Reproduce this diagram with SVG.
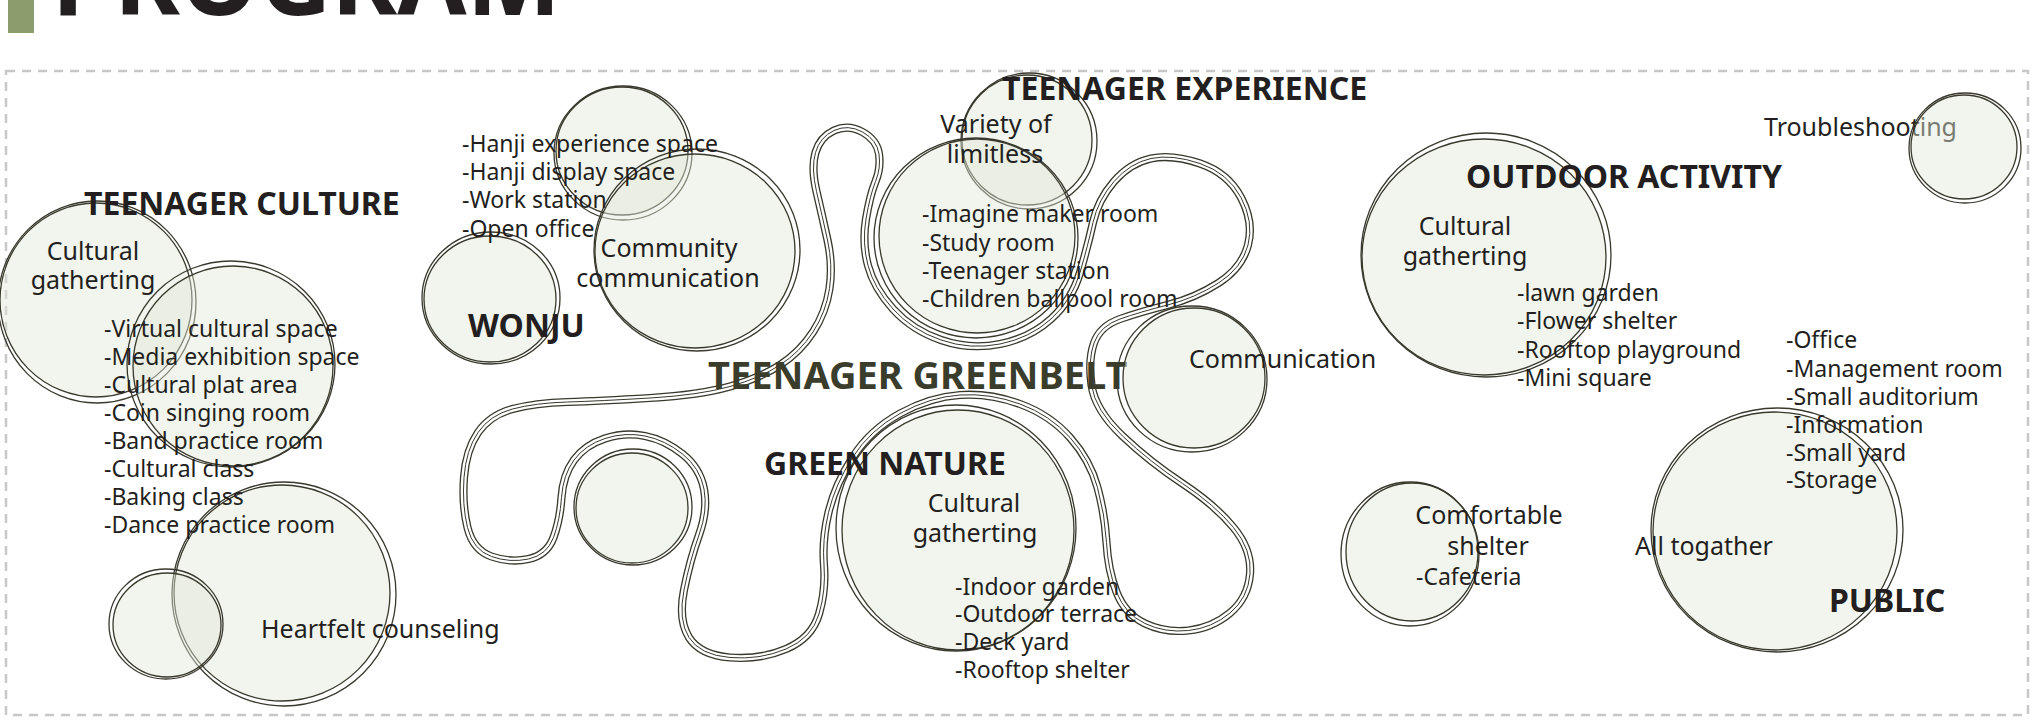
<svg xmlns="http://www.w3.org/2000/svg" width="2033" height="724" viewBox="0 0 2033 724">
<style>
.f{fill:#e3e8d6;fill-opacity:.45}
.o{fill:none;stroke:#38382c;stroke-width:1.3}
.h{font-family:"Noto Sans","Open Sans",sans-serif;font-weight:700;font-size:32px;fill:#231f20}
.t{font-family:"Noto Sans","Open Sans",sans-serif;font-size:25px;fill:#231f20}
.l{font-family:"Noto Sans","Open Sans",sans-serif;font-size:23px;fill:#231f20}
.c{text-anchor:middle}
</style>
<defs>
<path id="belt" fill="none" d="M567.5,402 Q600,401 650,398 Q700,395 730,386.5 Q760,378 780,365 Q800,352 813,332 Q826,312 829.5,288.5 Q833,265 827.5,240 Q822,215 816.5,191.5 Q811,168 815.5,152.5 Q820,137 834,130.5 Q848,124 862.5,132 Q877,140 879,154 Q881,168 875.5,181.5 Q870,195 866,219 Q862,243 868,265.5 Q874,288 893,309 Q912,330 941,340 Q970,350 1000,344 Q1030,338 1051,319 Q1072,300 1080,272.5 Q1088,245 1093,222.5 Q1098,200 1114,181.5 Q1130,163 1151,158.5 Q1172,154 1200,163.5 Q1228,173 1241,197.5 Q1254,222 1248,245 Q1242,268 1218.5,283 Q1195,298 1167.5,305 Q1140,312 1120,319 Q1100,326 1094,343 Q1088,360 1091.5,385 Q1095,410 1122.5,436 Q1150,462 1182.5,483.5 Q1215,505 1233.5,527.5 Q1252,550 1250,574 Q1248,598 1230,613 Q1212,628 1188.5,630.5 Q1165,633 1145,623.5 Q1125,614 1116.5,592 Q1108,570 1106.5,542.5 Q1105,515 1097.5,487.5 Q1090,460 1070,437.5 Q1050,415 1020,404 Q990,393 960,395 Q930,397 900,413.5 Q870,430 852.5,457.5 Q835,485 828.5,512.5 Q822,540 824,565 Q826,590 819,614 Q812,638 786,649 Q760,660 730,657.5 Q700,655 689,637.5 Q678,620 684,590 Q690,560 699,535 Q708,510 704,489 Q700,468 682.5,454 Q665,440 645,436 Q625,432 605,438.5 Q585,445 574,460 Q563,475 561.5,497.5 Q560,520 553.5,537.5 Q547,555 528.5,559 Q510,563 491.5,556.5 Q473,550 467.5,527.5 Q462,505 464,477.5 Q466,450 478,432.5 Q490,415 512.5,409 Q535,403 567.5,402 Z"/>
<mask id="tubeMask" maskUnits="userSpaceOnUse" x="0" y="0" width="2033" height="724">
<rect x="0" y="0" width="2033" height="724" fill="#fff"/>
<use href="#belt" stroke="#000" stroke-width="5.6"/>
</mask>
</defs>

<g id="header">
<rect x="8" y="0" width="26" height="33" fill="#8c9d6d"/>
<text x="52" y="15" font-family="Noto Sans, Open Sans, sans-serif" font-weight="700" font-size="104" fill="#231f20" textLength="509" lengthAdjust="spacingAndGlyphs">PROGRAM</text>
<rect x="6" y="71" width="2022" height="644" fill="none" stroke="#c8c8c8" stroke-width="2.5" stroke-dasharray="9 7"/>
</g>

<g id="connectors">
<use href="#belt" stroke="#38382c" stroke-width="8.2" mask="url(#tubeMask)"/>
<use href="#belt" stroke="#38382c" stroke-width="1"/>
</g>

<g id="teenager-culture">
<ellipse class="f" cx="96" cy="300" rx="96" ry="97"/>
<ellipse class="o" cx="96" cy="300" rx="96" ry="97"/>
<ellipse class="o" cx="97" cy="302" rx="99" ry="101"/>
<ellipse class="f" cx="233" cy="366" rx="100" ry="100"/>
<ellipse class="o" cx="233" cy="366" rx="100" ry="100"/>
<ellipse class="o" cx="231" cy="364" rx="104" ry="103"/>
<ellipse class="f" cx="282" cy="593" rx="108" ry="108"/>
<ellipse class="o" cx="282" cy="593" rx="108" ry="108"/>
<ellipse class="o" cx="284" cy="594" rx="112" ry="112"/>
<ellipse class="f" cx="167" cy="625" rx="54" ry="52"/>
<ellipse class="o" cx="167" cy="625" rx="54" ry="52"/>
<ellipse class="o" cx="166" cy="624" rx="57" ry="55"/>
<text class="h" x="84" y="215">TEENAGER CULTURE</text>
<text class="t c" x="93" y="260">Cultural</text>
<text class="t c" x="93" y="289">gatherting</text>
<text class="l" x="104" y="337">-Virtual cultural space</text>
<text class="l" x="104" y="365">-Media exhibition space</text>
<text class="l" x="104" y="393">-Cultural plat area</text>
<text class="l" x="104" y="421">-Coin singing room</text>
<text class="l" x="104" y="449">-Band practice room</text>
<text class="l" x="104" y="477">-Cultural class</text>
<text class="l" x="104" y="505">-Baking class</text>
<text class="l" x="104" y="533">-Dance practice room</text>
<text class="t" x="261" y="638">Heartfelt counseling</text>
</g>

<g id="wonju">
<ellipse class="f" cx="622" cy="151" rx="66" ry="64"/>
<ellipse class="o" cx="622" cy="151" rx="66" ry="64"/>
<ellipse class="o" cx="623" cy="153" rx="69" ry="67"/>
<ellipse class="f" cx="695" cy="251" rx="100" ry="97"/>
<ellipse class="o" cx="695" cy="251" rx="100" ry="97"/>
<ellipse class="o" cx="697" cy="250" rx="103" ry="101"/>
<ellipse class="f" cx="490" cy="299" rx="66" ry="63"/>
<ellipse class="o" cx="490" cy="299" rx="66" ry="63"/>
<ellipse class="o" cx="491" cy="298" rx="69" ry="66"/>
<text class="l" x="462" y="152">-Hanji experience space</text>
<text class="l" x="462" y="180">-Hanji display space</text>
<text class="l" x="462" y="208">-Work station</text>
<text class="l" x="462" y="237">-Open office</text>
<text class="t c" x="669" y="257">Community</text>
<text class="t c" x="668" y="287">communication</text>
<text class="h" x="468" y="337">WONJU</text>
</g>

<g id="teenager-greenbelt">
<ellipse class="f" cx="632" cy="508" rx="56" ry="55"/>
<ellipse class="o" cx="632" cy="508" rx="56" ry="55"/>
<ellipse class="o" cx="633" cy="507" rx="59" ry="58"/>
<text x="708" y="389" font-family="Noto Sans, Open Sans, sans-serif" font-weight="700" font-size="38" fill="#3a3d2b">TEENAGER GREENBELT</text>
</g>

<g id="teenager-experience">
<ellipse class="f" cx="1027" cy="140" rx="65" ry="65"/>
<ellipse class="o" cx="1027" cy="140" rx="65" ry="65"/>
<ellipse class="o" cx="1029" cy="141" rx="68" ry="68"/>
<ellipse class="f" cx="977" cy="236" rx="98" ry="97"/>
<ellipse class="o" cx="977" cy="236" rx="98" ry="97"/>
<ellipse class="o" cx="976" cy="238" rx="102" ry="100"/>
<text class="h" x="1002" y="100">TEENAGER EXPERIENCE</text>
<text class="t c" x="996" y="133">Variety of</text>
<text class="t c" x="995" y="163">limitless</text>
<text class="l" x="922" y="222">-Imagine maker room</text>
<text class="l" x="922" y="251">-Study room</text>
<text class="l" x="922" y="279">-Teenager station</text>
<text class="l" x="922" y="307">-Children ballpool room</text>
</g>

<g id="green-nature">
<ellipse class="f" cx="958" cy="530" rx="116" ry="120"/>
<ellipse class="o" cx="958" cy="530" rx="116" ry="120"/>
<ellipse class="o" cx="956" cy="528" rx="120" ry="123"/>
<text class="h" x="764" y="475">GREEN NATURE</text>
<text class="t c" x="974" y="512">Cultural</text>
<text class="t c" x="975" y="542">gatherting</text>
<text class="l" x="955" y="595">-Indoor garden</text>
<text class="l" x="955" y="622">-Outdoor terrace</text>
<text class="l" x="955" y="650">-Deck yard</text>
<text class="l" x="955" y="678">-Rooftop shelter</text>
</g>

<g id="communication">
<ellipse class="f" cx="1194" cy="378" rx="71" ry="70"/>
<ellipse class="o" cx="1194" cy="378" rx="71" ry="70"/>
<ellipse class="o" cx="1192" cy="379" rx="75" ry="73"/>
<text class="t" x="1189" y="368">Communication</text>
</g>

<g id="outdoor-activity">
<ellipse class="f" cx="1484" cy="257" rx="122" ry="118"/>
<ellipse class="o" cx="1484" cy="257" rx="122" ry="118"/>
<ellipse class="o" cx="1486" cy="255" rx="125" ry="122"/>
<text class="h" x="1466" y="188">OUTDOOR ACTIVITY</text>
<text class="t c" x="1465" y="235">Cultural</text>
<text class="t c" x="1465" y="265">gatherting</text>
<text class="l" x="1517" y="301">-lawn garden</text>
<text class="l" x="1517" y="329">-Flower shelter</text>
<text class="l" x="1517" y="358">-Rooftop playground</text>
<text class="l" x="1517" y="386">-Mini square</text>
</g>

<g id="troubleshooting">
<text class="t" x="1764" y="136">Troubleshooting</text>
<ellipse class="f" cx="1964" cy="147" rx="53" ry="52"/>
<ellipse class="o" cx="1964" cy="147" rx="53" ry="52"/>
<ellipse class="o" cx="1965" cy="148" rx="56" ry="55"/>
</g>

<g id="comfortable-shelter">
<ellipse class="f" cx="1412" cy="552" rx="66" ry="69"/>
<ellipse class="o" cx="1412" cy="552" rx="66" ry="69"/>
<ellipse class="o" cx="1410" cy="554" rx="69" ry="72"/>
<text class="t c" x="1489" y="524">Comfortable</text>
<text class="t c" x="1488" y="555">shelter</text>
<text class="l" x="1416" y="585">-Cafeteria</text>
</g>

<g id="public">
<ellipse class="f" cx="1775" cy="531" rx="122" ry="119"/>
<ellipse class="o" cx="1775" cy="531" rx="122" ry="119"/>
<ellipse class="o" cx="1777" cy="530" rx="126" ry="122"/>
<text class="l" x="1786" y="348">-Office</text>
<text class="l" x="1786" y="377">-Management room</text>
<text class="l" x="1786" y="405">-Small auditorium</text>
<text class="l" x="1786" y="433">-Information</text>
<text class="l" x="1786" y="461">-Small yard</text>
<text class="l" x="1786" y="488">-Storage</text>
<text class="t" x="1635" y="555">All togather</text>
<text class="h" x="1829" y="612">PUBLIC</text>
</g>
</svg>
